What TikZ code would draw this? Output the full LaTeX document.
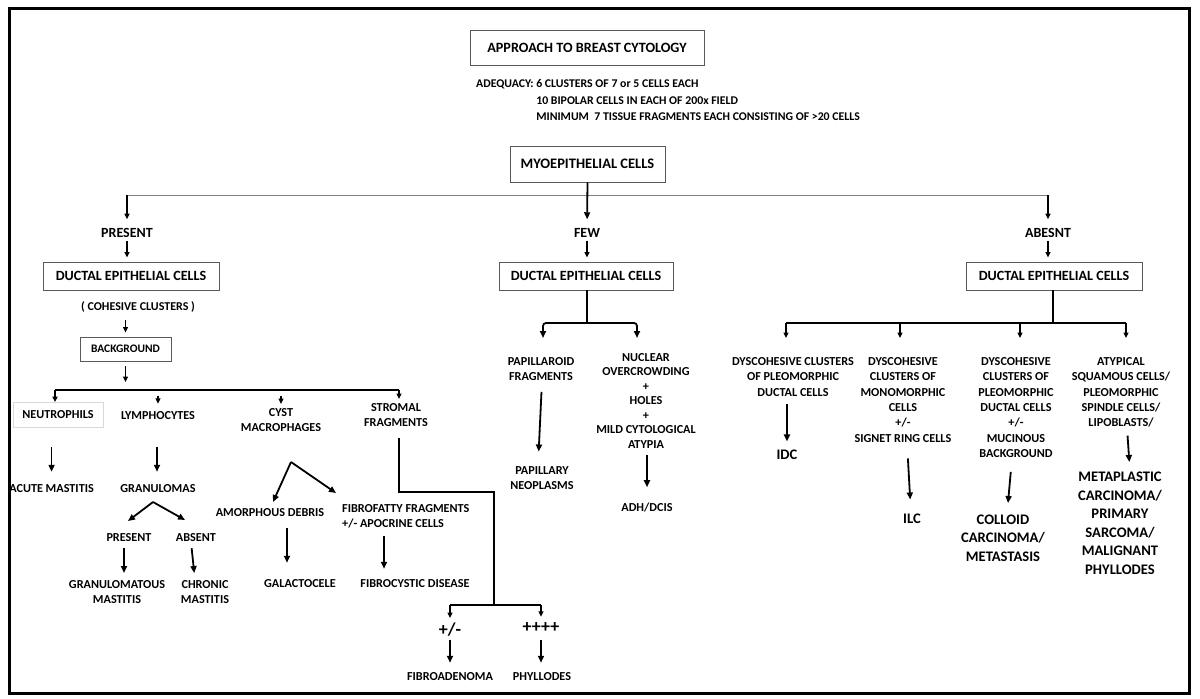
\documentclass[tikz,border=0pt]{standalone}
\usepackage{fontspec}
\setmainfont{Carlito}
\usetikzlibrary{arrows.meta}

\begin{document}
\begin{tikzpicture}[x=1pt,y=-1pt,
    lbl/.style={font=\fontsize{12.2}{15.4}\selectfont\bfseries, align=center, inner sep=0pt},
    lbltiny/.style={font=\fontsize{12}{15}\selectfont\bfseries, align=center, inner sep=0pt},
    lblmid/.style={font=\fontsize{14}{16}\selectfont\bfseries, align=center, inner sep=0pt},
    lblbig/.style={font=\fontsize{14.6}{18.5}\selectfont\bfseries, align=center, inner sep=0pt},
    boxed/.style={draw=black!65, line width=0.9pt, inner sep=0pt, align=center},
    bar/.style={line width=1.9pt},
    conn/.style={line width=1.8pt, -{Triangle[length=7pt,width=6pt]}},
    connsm/.style={line width=1.3pt, -{Triangle[length=5.5pt,width=5pt]}},
    gap/.style 2 args={shorten <=#1, shorten >=#2}
]

    \fill[white] (0,0) rectangle (1200,699);
    \useasboundingbox (0,0) rectangle (1200,699);

    % header
    \node[boxed, font=\fontsize{14.2}{16}\selectfont\bfseries, minimum width=234pt, minimum height=35pt] (title) at (587,47.5) {APPROACH TO BREAST CYTOLOGY};
    \node[anchor=north west, inner sep=0pt, font=\fontsize{11.8}{16.5}\selectfont\bfseries] (adeq) at (476,76) {%
        \begin{tabular}{@{}l@{ }l@{}}
        ADEQUACY: & 6 CLUSTERS OF 7 or 5 CELLS EACH\\
                  & 10 BIPOLAR CELLS IN EACH OF 200x FIELD\\
                  & MINIMUM\ \ 7 TISSUE FRAGMENTS EACH CONSISTING OF >20 CELLS
        \end{tabular}};
    \node[boxed, font=\fontsize{14.5}{16}\selectfont\bfseries, minimum width=155pt, minimum height=36pt] (myo) at (587.5,164) {MYOEPITHELIAL CELLS};

    \node[lblmid] (present) at (127,233) {PRESENT};
    \node[lblmid] (few) at (587,233) {FEW};
    \node[lblmid] (absent) at (1048,233) {ABESNT};

    \coordinate (splitL) at (127,195);
    \coordinate (splitR) at (1048,195);
    \draw[gray, line width=1pt] (splitL) -- (splitR);
    \draw[conn, gap={0pt}{9pt}] (myo.south) -- (few.north);
    \draw[connsm, gap={0pt}{9pt}] (splitL) -- (present.north);
    \draw[connsm, gap={0pt}{9pt}] (splitR) -- (absent.north);

    \node[boxed, font=\fontsize{14.1}{16}\selectfont\bfseries, minimum width=176pt, minimum height=28pt] (ductL) at (131,276) {DUCTAL EPITHELIAL CELLS};
    \node[boxed, font=\fontsize{14.1}{16}\selectfont\bfseries, minimum width=174pt, minimum height=28pt] (ductM) at (586,276) {DUCTAL EPITHELIAL CELLS};
    \node[boxed, font=\fontsize{14.1}{16}\selectfont\bfseries, minimum width=176pt, minimum height=28pt] (ductR) at (1054,276) {DUCTAL EPITHELIAL CELLS};
    \draw[connsm, gap={3pt}{4pt}] (present.south) -- (present.south |- ductL.north);
    \draw[connsm, gap={3pt}{4pt}] (few.south) -- (few.south |- ductM.north);
    \draw[connsm, gap={3pt}{4pt}] (absent.south) -- (absent.south |- ductR.north);

    % present branch
    \node[lbltiny] (cohesive) at (138,307) {( COHESIVE CLUSTERS )};
    \node[boxed, font=\fontsize{11.5}{15}\selectfont\bfseries, minimum width=91pt, minimum height=24pt] (backgr) at (125.5,349) {BACKGROUND};
    \draw[connsm, gap={7pt}{4pt}] (backgr.north |- cohesive.south) -- (backgr.north);

    \coordinate (barW) at (55,390);
    \coordinate (barE) at (399,390);
    \draw[connsm, gap={5pt}{8pt}] (backgr.south) -- (backgr.south |- barE);
    \draw[bar] (barW) -- (barE);

    \node[lbl, draw=black!15, line width=0.8pt, minimum width=90pt, minimum height=25pt] (neutro) at (58,415) {NEUTROPHILS};
    \node[lbl] (lymph) at (158,416) {LYMPHOCYTES};
    \node[lbl, anchor=north] (cyst) at (281,408) {CYST\\MACROPHAGES};
    \node[lbl, anchor=north] (stromal) at (396,403) {STROMAL\\FRAGMENTS};
    \draw[connsm] (barW) -- (barW |- neutro.north);
    \draw[connsm, gap={6pt}{8pt}] (lymph.north |- barE) -- (lymph.north);
    \draw[connsm, gap={6pt}{4pt}] (cyst.north |- barE) -- (cyst.north);
    \draw[connsm, gap={0pt}{4pt}] (barE) -- (barE |- stromal.north);

    \node[lbl, anchor=east] (acute) at (94,489) {ACUTE MASTITIS};
    \node[lbl] (gran) at (158,489) {GRANULOMAS};
    \draw[conn, gap={19.5pt}{13pt}] (acute.north |- neutro.south) -- (acute.north);
    \draw[conn, gap={27pt}{13pt}] ([xshift=-1pt]gran.north |- lymph.south) -- ([xshift=-1pt]gran.north);

    \coordinate (granV) at (153,502);
    \coordinate (granVl) at (128,521);
    \coordinate (granVr) at (185,520);
    \draw[conn] (granV) -- (granVl);
    \draw[conn] (granV) -- (granVr);
    \node[lbl] (gpres) at (129,538) {PRESENT};
    \node[lbl] (gabs) at (196,538) {ABSENT};
    \node[lbl, anchor=north] (gmast) at (117,580) {GRANULOMATOUS\\MASTITIS};
    \node[lbl, anchor=north] (chronic) at (205,580) {CHRONIC\\MASTITIS};
    \draw[conn, gap={6pt}{7pt}] ([xshift=-5pt]gpres.south) -- ([xshift=-5pt]gpres.south |- gmast.north);
    \draw[conn, gap={6pt}{7pt}] ([xshift=-5pt]gabs.south) -- ([xshift=-10pt]chronic.north);

    \coordinate (cystV) at (291,462);
    \coordinate (cystVl) at (273,502);
    \coordinate (cystVr) at (336,493);
    \draw[conn] (cystV) -- (cystVl);
    \draw[conn] (cystV) -- (cystVr);
    \node[lbl] (amorph) at (270,513) {AMORPHOUS DEBRIS};
    \node[lbl, anchor=north west, align=left] (fibro) at (342,504) {FIBROFATTY FRAGMENTS\\+/- APOCRINE CELLS};
    \node[lbl] (galacto) at (300,584) {GALACTOCELE};
    \node[lbl] (fcyst) at (415,584) {FIBROCYSTIC DISEASE};
    \draw[conn, gap={11pt}{17pt}] ([xshift=17pt]amorph.south) -- ([xshift=17pt]amorph.south |- galacto.north);
    \draw[conn, gap={8pt}{11pt}] ([xshift=42pt]fibro.south west) -- ([xshift=42pt]fibro.south west |- fcyst.north);

    % stromal fragments
    \coordinate (sturn) at (494,492);
    \coordinate (sjoin) at (494,605);
    \node[lblbig, font=\fontsize{18}{20}\selectfont\bfseries] (fplus) at (450,630) {+/-};
    \node[lblbig, font=\fontsize{18}{20}\selectfont\bfseries] (pplus) at (541,628) {++++};
    \node[lbl] (fibroad) at (450,677) {FIBROADENOMA};
    \node[lbl] (phyll) at (542,677) {PHYLLODES};
    \draw[bar, shorten <=11pt] (barE |- stromal.south) |- (sturn) -- (sjoin);
    \draw[bar] (fplus.north |- sjoin) -- (pplus.north |- sjoin);
    \draw[connsm, gap={0pt}{5pt}] (fplus.north |- sjoin) -- (fplus.north);
    \draw[connsm, gap={0pt}{6pt}] (pplus.north |- sjoin) -- (pplus.north);
    \draw[conn, gap={3pt}{10pt}] (fplus.south) -- (fplus.south |- fibroad.north);
    \draw[conn, gap={7pt}{10pt}] (pplus.south) -- (pplus.south |- phyll.north);

    % few branch
    \coordinate (mjoin) at (587,323);
    \coordinate (m1) at (543,323);
    \coordinate (m2) at (637,323);
    \node[lbl, anchor=north] (papil) at (541,357) {PAPILLAROID\\FRAGMENTS};
    \node[lbl, anchor=north, font=\fontsize{12.2}{14.5}\selectfont\bfseries] (nuclear) at (646,353) {NUCLEAR\\OVERCROWDING\\+\\HOLES\\+\\MILD CYTOLOGICAL\\ATYPIA};
    \node[lbl, anchor=north] (papneo) at (542,466) {PAPILLARY\\NEOPLASMS};
    \node[lbl] (adh) at (647,507) {ADH/DCIS};
    \draw[bar] (ductM.south -| mjoin) -- (mjoin);
    \draw[conn, rounded corners=3pt, shorten >=19pt] (mjoin) -| (m1 |- papil.north);
    \draw[conn, rounded corners=3pt, shorten >=15pt] (mjoin) -| (m2 |- nuclear.north);
    \draw[conn, gap={11pt}{14.5pt}] ([xshift=1pt]papil.south) -- ([xshift=-4pt]papneo.north);
    \draw[conn, gap={7pt}{15pt}] (adh.north |- nuclear.south) -- (adh.north);

    % absent branch
    \coordinate (rjoin) at (1053,323);
    \coordinate (r1) at (786,323);
    \coordinate (r2) at (900,323);
    \coordinate (r3) at (1020,323);
    \coordinate (r4) at (1126,323);
    \node[lbl, anchor=north] (col1) at (793,357) {DYSCOHESIVE CLUSTERS\\OF PLEOMORPHIC\\DUCTAL CELLS};
    \node[lbl, anchor=north] (col2) at (903,357) {DYSCOHESIVE\\CLUSTERS OF\\MONOMORPHIC\\CELLS\\+/-\\SIGNET RING CELLS};
    \node[lbl, anchor=north] (col3) at (1016,357) {DYSCOHESIVE\\CLUSTERS OF\\PLEOMORPHIC\\DUCTAL CELLS\\+/-\\MUCINOUS\\BACKGROUND};
    \node[lbl, anchor=north] (col4) at (1121,357) {ATYPICAL\\SQUAMOUS CELLS/\\PLEOMORPHIC\\SPINDLE CELLS/\\LIPOBLASTS/};
    \draw[bar] (ductR.south -| rjoin) -- (rjoin);
    \draw[bar] (r1) -- (r4);
    \foreach \r/\c in {r1/col1, r2/col2, r3/col3, r4/col4}
        \draw[connsm, gap={0pt}{19pt}] (\r) -- (\r |- \c.north);

    \node[lblbig] (idc) at (787,455) {IDC};
    \node[lblbig] (ilc) at (912,519) {ILC};
    \node[lblbig, anchor=north] (colloid) at (1003,514.5) {COLLOID\\CARCINOMA/\\METASTASIS};
    \node[lblbig, anchor=north] (meta) at (1120,472) {METAPLASTIC\\CARCINOMA/\\PRIMARY\\SARCOMA/\\MALIGNANT\\PHYLLODES};
    \draw[conn, gap={8pt}{8.5pt}] (idc.north |- col1.south) -- (idc.north);
    \draw[conn, gap={16pt}{14.5pt}] ([xshift=4pt]col2.south) -- ([xshift=-1pt]ilc.north);
    \draw[conn, gap={14pt}{11.5pt}] ([xshift=-4pt]col3.south) -- ([xshift=4pt]colloid.north);
    \draw[conn, gap={8pt}{10pt}] ([xshift=6pt]col4.south) -- ([xshift=10pt]meta.north);

    % frame
    \draw[line width=3pt] (9.5,8.5) rectangle (1189.5,693.5);

\end{tikzpicture}
\end{document}
